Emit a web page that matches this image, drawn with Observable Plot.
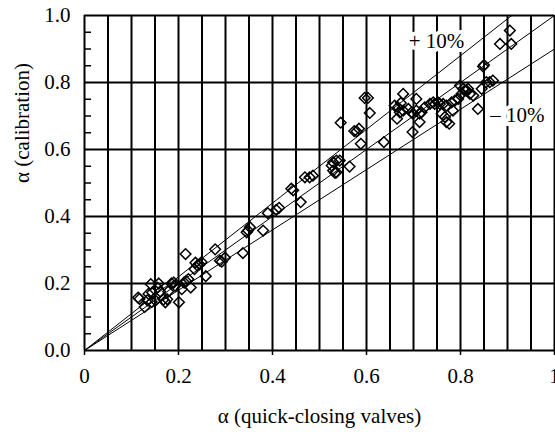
<!DOCTYPE html>
<html>
<head>
<meta charset="utf-8">
<script src="https://cdn.jsdelivr.net/npm/d3@7"></script>
<script src="https://cdn.jsdelivr.net/npm/@observablehq/plot@0.6"></script>
<style>
  html, body { margin: 0; padding: 0; background: #fff; }
  svg, svg text { font-family: "Liberation Serif", "DejaVu Serif", serif !important; }
</style>
</head>
<body>
<div id="chart"></div>
<script>
// α (quick-closing valves) vs α (calibration)
const alphaQuick = [
  0.114,0.117,0.128,0.134,0.136,0.141,0.144,0.143,0.151,0.155,0.158,0.161,0.168,0.172,0.176,0.178,
  0.185,0.190,0.193,0.201,0.207,0.212,0.216,0.215,0.221,0.226,0.234,0.236,0.240,0.245,0.249,0.258,
  0.278,0.288,0.292,0.299,0.337,0.345,0.348,0.352,0.380,0.390,0.408,0.414,0.440,0.444,0.460,0.469,
  0.479,0.486,0.526,0.529,0.533,0.536,0.529,0.536,0.543,0.545,0.564,0.574,0.579,0.584,0.588,0.596,
  0.603,0.607,0.637,0.660,0.667,0.665,0.671,0.678,0.678,0.673,0.689,0.696,0.699,0.698,0.706,0.706,
  0.713,0.717,0.713,0.724,0.735,0.742,0.745,0.752,0.756,0.760,0.767,0.770,0.776,0.763,0.770,0.781,
  0.788,0.795,0.784,0.802,0.809,0.816,0.799,0.806,0.813,0.820,0.827,0.837,0.845,0.848,0.850,0.855,
  0.862,0.869,0.884,0.905,0.908
];
const alphaCalibration = [
  0.158,0.154,0.130,0.150,0.169,0.198,0.173,0.145,0.149,0.188,0.200,0.176,0.152,0.144,0.153,0.176,
  0.200,0.203,0.193,0.144,0.183,0.203,0.207,0.288,0.213,0.188,0.243,0.262,0.254,0.257,0.264,0.222,
  0.302,0.268,0.265,0.277,0.291,0.353,0.358,0.368,0.358,0.410,0.420,0.426,0.483,0.478,0.443,0.517,
  0.517,0.522,0.552,0.537,0.530,0.532,0.562,0.567,0.567,0.680,0.549,0.655,0.654,0.662,0.617,0.754,
  0.754,0.709,0.622,0.731,0.726,0.692,0.711,0.716,0.766,0.739,0.721,0.711,0.707,0.652,0.716,0.751,
  0.707,0.711,0.682,0.726,0.736,0.741,0.736,0.741,0.736,0.707,0.697,0.682,0.677,0.736,0.731,0.741,
  0.746,0.751,0.716,0.766,0.776,0.781,0.791,0.781,0.776,0.766,0.761,0.721,0.781,0.848,0.852,0.801,
  0.801,0.806,0.915,0.955,0.915
];

const xTickValues = [0, 0.2, 0.4, 0.6, 0.8, 1];
const yTickValues = [0, 0.2, 0.4, 0.6, 0.8, 1.0];
const xGridValues = [0,0.05,0.1,0.15,0.2,0.25,0.3,0.35,0.4,0.45,0.5,0.55,0.6,0.65,0.7,0.75,0.8,0.85,0.9,0.95,1];
const yMinorTicks = [0.05,0.1,0.15,0.25,0.3,0.35,0.45,0.5,0.55,0.65,0.7,0.75,0.85,0.9,0.95];
const bandSlopes = [1.1, 1.0, 0.9];
const bandLabelText = ["+ 10%", "\u2013 10%"];
const bandLabelX = [0.749, 0.921];
const bandLabelY = [0.922, 0.701];

const points = alphaQuick.map((x, i) => ({x, y: alphaCalibration[i]}));
const bandLines = bandSlopes.flatMap(s => [{x: 0, y: 0, s}, {x: 1, y: s, s}]);
const bandLabels = bandLabelText.map((t, i) => ({t, x: bandLabelX[i], y: bandLabelY[i]}));

const W = 555, H = 432, mL = 84, mR = 1, mT = 15, mB = 82;
const font = "Liberation Serif";
const fs = 21;

const chart = Plot.plot({
  width: W, height: H,
  marginLeft: mL, marginRight: mR, marginTop: mT, marginBottom: mB,
  style: {fontFamily: font, fontSize: fs + "px", background: "#fff", color: "#000"},
  x: {domain: [0, 1], axis: null},
  y: {domain: [0, 1], axis: null},
  marks: [
    Plot.ruleX(xGridValues, {stroke: "#000", strokeWidth: 2}),
    Plot.ruleY(yTickValues, {stroke: "#000", strokeWidth: 2}),
    Plot.tickY(yMinorTicks, {y: d => d, stroke: "#000", strokeWidth: 1.5, insetRight: W - mL - mR - 7}),
    Plot.line(bandLines, {x: "x", y: "y", z: "s", stroke: "#000", strokeWidth: 1, clip: true}),
    Plot.dot(points, {x: "x", y: "y", symbol: "diamond2", r: 4.8, stroke: "#000", strokeWidth: 1.5, fill: "none"}),
    Plot.text(bandLabels, {x: "x", y: "y", text: "t", fontFamily: font, fontSize: fs, fill: "#000", stroke: "#fff", strokeWidth: 8}),
    Plot.axisX(xTickValues, {
      tickSize: 5, tickPadding: 13, label: null, fontFamily: font, fontSize: fs, strokeWidth: 1.5,
      tickFormat: d => (d === 0 ? "0" : d === 1 ? "1" : d.toFixed(1))
    }),
    Plot.axisY(yTickValues, {
      tickSize: 0, tickPadding: 14, label: null, fontFamily: font, fontSize: fs,
      tickFormat: d => d.toFixed(1)
    }),
    Plot.text(["\u03b1 (quick-closing valves)"], {frameAnchor: "bottom", dy: 72, fontFamily: font, fontSize: fs, fill: "#000"}),
    Plot.text(["\u03b1 (calibration)"], {frameAnchor: "left", dx: -62, rotate: -90, fontFamily: font, fontSize: fs, fill: "#000"})
  ]
});

document.getElementById("chart").appendChild(chart);
</script>
</body>
</html>
